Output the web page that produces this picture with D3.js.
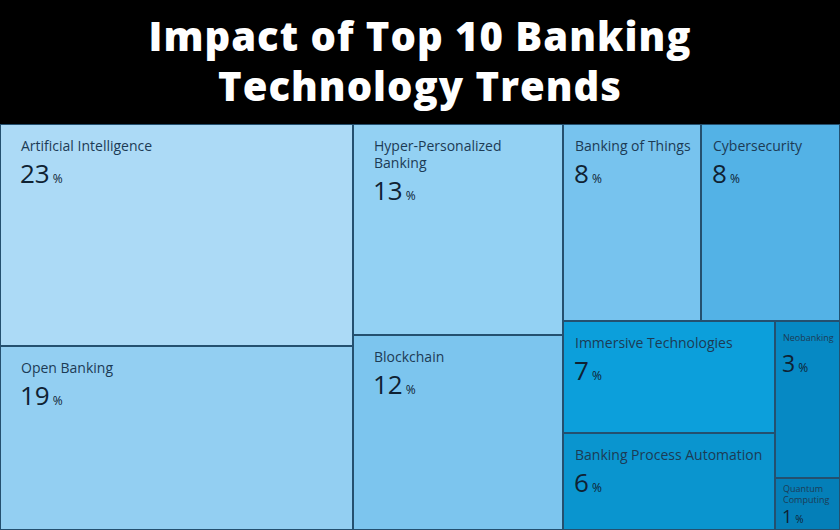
<!DOCTYPE html>
<html>
<head>
<meta charset="utf-8">
<script src="https://cdn.jsdelivr.net/npm/d3@7"></script>
<style>
  html, body { margin: 0; padding: 0; background: #000; }
  svg { display: block; }
</style>
</head>
<body>
<div id="chart"></div>
<script>
// values
const trends = ["Artificial Intelligence", "Open Banking", "Hyper-Personalized|Banking", "Blockchain",
                "Banking of Things", "Cybersecurity", "Immersive Technologies",
                "Banking Process Automation", "Neobanking", "Quantum|Computing"]
const shares = [23, 19, 13, 12, 8, 8, 7, 6, 3, 1]
// which block each tile sits in (column / row / sub-column)
const groups = ["c1", "c1", "c2", "c2", "c3/top", "c3/top", "c3/low/a", "c3/low/a", "c3/low/b", "c3/low/b"]
const tileColors = ["#acdaf6", "#93cff2", "#93d1f3", "#7cc5ee", "#77c3ee",
                    "#53b2e6", "#0c9fdb", "#0a95cf", "#0689c4", "#047fb8"]
const titleLines = ["Impact of Top 10 Banking", "Technology Trends"]

const width = 840, height = 530, titleH = 124

var svg = d3.select("#chart")
    .append("svg")
    .attr("width", width)
    .attr("height", height)

// title band
svg.append("rect")
    .attr("width", width)
    .attr("height", titleH)
    .attr("fill", "#000")

svg.selectAll("titleLines")
    .data(titleLines)
    .enter()
    .append("text")
    .attr("x", width / 2)
    .attr("y", (d, i) => 51 + i * 50)
    .attr("text-anchor", "middle")
    .style("font-family", "'Open Sans', sans-serif")
    .style("font-weight", 800)
    .style("font-size", "40px")
    .style("letter-spacing", "1px")
    .style("fill", "#fff")
    .text(d => d)

// build the nested tree from the group paths
const root = {name: "root", children: []}
trends.forEach((name, i) => {
    let node = root
    for (const key of groups[i].split("/")) {
        let child = node.children.find(c => c.name === key)
        if (!child) { child = {name: key, children: []}; node.children.push(child) }
        node = child
    }
    node.children.push({name: name, value: shares[i], color: tileColors[i]})
})

const hierarchy = d3.hierarchy(root).sum(d => d.value || 0)

d3.treemap()
    .tile(d3.treemapSliceDice)
    .size([width, height - titleH])
    .round(true)(hierarchy)

const leaves = svg.append("g")
    .attr("transform", "translate(0," + titleH + ")")
    .selectAll("g")
    .data(hierarchy.leaves())
    .enter()
    .append("g")
    .attr("transform", d => "translate(" + d.x0 + "," + d.y0 + ")")

leaves.append("rect")
    .attr("x", 0.5)
    .attr("y", 0.5)
    .attr("width", d => d.x1 - d.x0 - 1)
    .attr("height", d => d.y1 - d.y0 - 1)
    .attr("fill", d => d.data.color)
    .attr("stroke", "#24506f")
    .attr("stroke-width", 1)

leaves.each(function(d) {
    const g = d3.select(this)
    const small = (d.x1 - d.x0) < 100
    const h = d.y1 - d.y0
    // deeper (third column) tiles sit closer to their left edge
    const padX = small ? 8 : (d.depth > 2 ? 12 : 21)
    const labelSize = small ? 9 : 14
    const lineH = small ? 11 : 17
    const lines = d.data.name.split("|")

    const firstY = small ? (lines.length > 1 ? 14 : 20) : 27
    g.append("text")
        .style("font-family", "'Open Sans', sans-serif")
        .style("font-size", labelSize + "px")
        .style("fill", "#1c3b55")
        .selectAll("tspan")
        .data(lines)
        .enter()
        .append("tspan")
        .attr("x", padX)
        .attr("y", (l, i) => firstY + i * lineH)
        .text(l => l)

    const numY = Math.min(firstY + (lines.length - 1) * lineH + (small ? 31 : 32), h - 7)
    const num = g.append("text")
        .attr("x", padX - 1)
        .attr("y", numY)
        .style("font-family", "'Open Sans', sans-serif")
        .style("fill", "#0f2233")
    num.append("tspan")
        .style("font-size", (small ? (lines.length > 1 ? 18 : 23) : 26) + "px")
        .text(d.data.value)
    num.append("tspan")
        .attr("dx", 3)
        .style("font-size", (small && lines.length > 1 ? 10 : 12) + "px")
        .text("%")
})
</script>
</body>
</html>
